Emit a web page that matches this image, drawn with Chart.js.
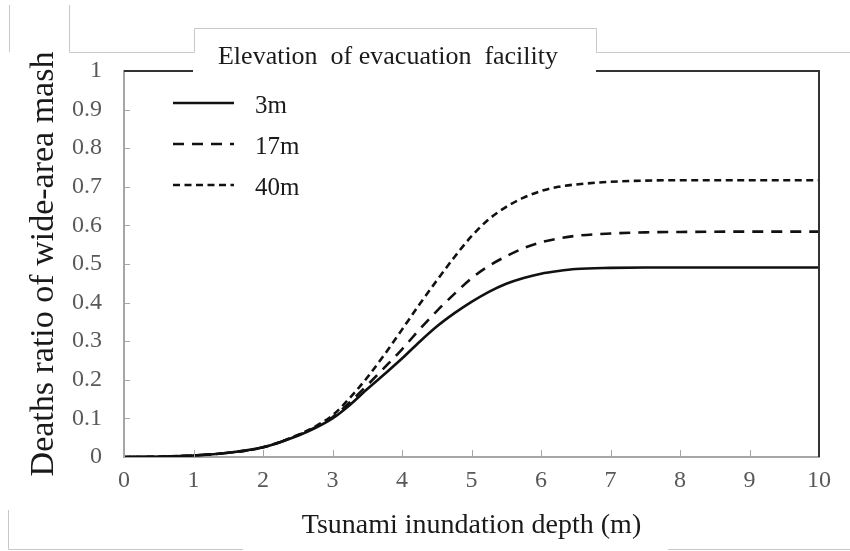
<!DOCTYPE html>
<html>
<head>
<meta charset="utf-8">
<script src="https://cdn.jsdelivr.net/npm/chart.js@4/dist/chart.umd.min.js"></script>
<style>
  html, body { margin: 0; padding: 0; background: #fff; }
  #wrap { width: 850px; height: 551px; position: relative; }
</style>
</head>
<body>
<div id="wrap"><canvas id="c" width="850" height="551"></canvas></div>
<script>
// ---- data ----
const depths   = [0, 0.5, 1, 1.5, 2, 2.5, 2.75, 3, 3.25, 3.5, 3.75, 4, 4.25, 4.5, 4.75, 5, 5.25, 5.5, 5.75, 6, 6.25, 6.5, 7, 7.5, 8, 9, 10];
const ratio3m  = [0, 0.001, 0.004, 0.011, 0.025, 0.055, 0.075, 0.100, 0.135, 0.176, 0.215, 0.255, 0.298, 0.338, 0.372, 0.402, 0.428, 0.449, 0.464, 0.475, 0.482, 0.487, 0.490, 0.491, 0.491, 0.491, 0.491];
const ratio17m = [0, 0.001, 0.004, 0.011, 0.025, 0.056, 0.077, 0.103, 0.142, 0.186, 0.232, 0.279, 0.330, 0.378, 0.422, 0.463, 0.495, 0.520, 0.541, 0.556, 0.566, 0.573, 0.579, 0.582, 0.583, 0.584, 0.584];
const ratio40m = [0, 0.001, 0.004, 0.011, 0.025, 0.057, 0.079, 0.108, 0.153, 0.206, 0.266, 0.330, 0.395, 0.457, 0.517, 0.572, 0.616, 0.648, 0.672, 0.689, 0.700, 0.706, 0.713, 0.716, 0.717, 0.717, 0.717];
const seriesNames = ['3m', '17m', '40m'];
const legendTitle = 'Elevation  of evacuation  facility';
const xTitle = 'Tsunami inundation depth (m)';
const yTitle = 'Deaths ratio of wide-area mash';
const xTicks = [0, 1, 2, 3, 4, 5, 6, 7, 8, 9, 10];
const yTicks = [0, 0.1, 0.2, 0.3, 0.4, 0.5, 0.6, 0.7, 0.8, 0.9, 1];

const SERIF = '"Liberation Serif", "Times New Roman", serif';

function pts(vals) { return depths.map((d, i) => ({ x: d, y: vals[i] })); }

const lineStyle = { borderColor: '#111', borderWidth: 2.6, pointRadius: 0, fill: false, cubicInterpolationMode: 'monotone' };

const decor = {
  id: 'decor',
  beforeDraw(chart) {
    const ctx = chart.ctx;
    ctx.save();
    ctx.fillStyle = '#fff';
    ctx.fillRect(0, 0, chart.width, chart.height);
    // faint frame artifacts around the figure
    ctx.strokeStyle = '#c8c8c8';
    ctx.lineWidth = 1;
    ctx.beginPath();
    ctx.moveTo(9.5, 5); ctx.lineTo(9.5, 52);
    ctx.moveTo(69.5, 5); ctx.lineTo(69.5, 52.5); ctx.lineTo(194.5, 52.5); ctx.lineTo(194.5, 28.5);
    ctx.lineTo(596.5, 28.5); ctx.lineTo(596.5, 52.5); ctx.lineTo(850, 52.5);
    ctx.moveTo(8.5, 510); ctx.lineTo(8.5, 549.5); ctx.lineTo(243, 549.5);
    ctx.moveTo(668, 549.5); ctx.lineTo(850, 549.5);
    ctx.stroke();
    ctx.restore();
  },
  afterDraw(chart) {
    const ctx = chart.ctx;
    const a = chart.chartArea;
    const xs = chart.scales.x, ys = chart.scales.y;
    ctx.save();
    // inward tick marks
    ctx.strokeStyle = '#a6a6a6';
    ctx.lineWidth = 1;
    ctx.beginPath();
    yTicks.forEach(v => {
      const y = Math.round(ys.getPixelForValue(v)) + 0.5;
      ctx.moveTo(a.left, y); ctx.lineTo(a.left + 6, y);
    });
    xTicks.forEach(v => {
      const x = Math.round(xs.getPixelForValue(v)) + 0.5;
      ctx.moveTo(x, a.bottom); ctx.lineTo(x, a.bottom - 7);
    });
    ctx.stroke();
    // top and right frame
    ctx.strokeStyle = '#333';
    ctx.lineWidth = 2;
    ctx.beginPath();
    ctx.moveTo(a.left, a.top); ctx.lineTo(a.right, a.top); ctx.lineTo(a.right, a.bottom);
    ctx.stroke();
    // legend title box (white, breaking the top frame)
    ctx.fillStyle = '#fff';
    ctx.fillRect(193, 60, 403, 20);
    ctx.fillStyle = '#1a1a1a';
    ctx.font = '26px ' + SERIF;
    ctx.textAlign = 'center';
    ctx.textBaseline = 'middle';
    ctx.fillText(legendTitle, 388, 57);
    // legend items
    const rows = [103, 144, 185];
    ctx.textAlign = 'left';
    ctx.font = '25px ' + SERIF;
    chart.data.datasets.forEach((ds, i) => {
      ctx.strokeStyle = ds.borderColor;
      ctx.lineWidth = ds.borderWidth;
      ctx.setLineDash(ds.borderDash || []);
      ctx.beginPath();
      ctx.moveTo(173, rows[i]); ctx.lineTo(234, rows[i]);
      ctx.stroke();
      ctx.setLineDash([]);
      ctx.fillStyle = '#1a1a1a';
      ctx.fillText(ds.label, 255, rows[i] + 3);
    });
    ctx.restore();
  }
};

new Chart(document.getElementById('c'), {
  type: 'line',
  data: {
    datasets: [
      Object.assign({ label: seriesNames[0], data: pts(ratio3m) }, lineStyle),
      Object.assign({ label: seriesNames[1], data: pts(ratio17m), borderDash: [11, 8] }, lineStyle),
      Object.assign({ label: seriesNames[2], data: pts(ratio40m), borderDash: [7, 4.5] }, lineStyle)
    ]
  },
  options: {
    responsive: false,
    animation: false,
    layout: { padding: { top: 71, right: 31, left: 0, bottom: 0 } },
    plugins: { legend: { display: false }, tooltip: { enabled: false } },
    scales: {
      x: {
        type: 'linear', min: 0, max: 10,
        afterFit(s) { s.height = 94; },
        afterBuildTicks(s) { s.ticks = xTicks.map(v => ({ value: v })); },
        grid: { display: false },
        border: { display: true, color: '#a6a6a6', width: 2 },
        ticks: { color: '#595959', font: { family: SERIF, size: 24 }, padding: 1, maxRotation: 0 },
        title: { display: true, text: xTitle, color: '#1a1a1a', font: { family: SERIF, size: 28 }, padding: { top: 0, bottom: 9 } }
      },
      y: {
        type: 'linear', min: 0, max: 1,
        afterFit(s) { s.width = 124; },
        afterBuildTicks(s) { s.ticks = yTicks.map(v => ({ value: v })); },
        grid: { display: false },
        border: { display: true, color: '#a6a6a6', width: 2 },
        ticks: { color: '#595959', font: { family: SERIF, size: 24 }, padding: 14, callback: v => String(v) },
        title: { display: true, text: yTitle, color: '#1a1a1a', font: { family: SERIF, size: 34 }, padding: { top: 24, bottom: 0 } }
      }
    }
  },
  plugins: [decor]
});
</script>
</body>
</html>
